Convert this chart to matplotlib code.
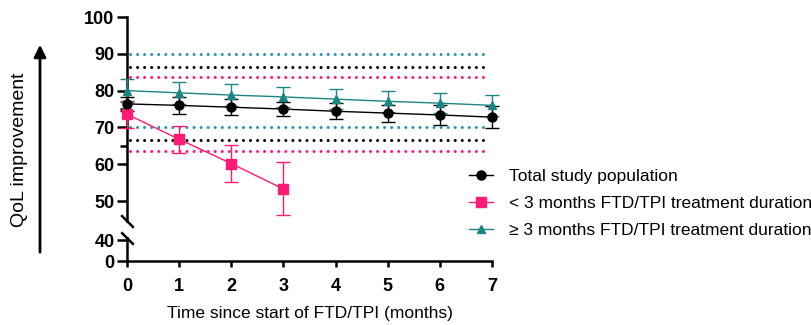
import numpy as np
import matplotlib.pyplot as plt

plt.rcParams['font.family'] = ['Liberation Sans', 'DejaVu Sans']

months = [0, 1, 2, 3, 4, 5, 6, 7]

total_mean = [76.4, 76.0, 75.5, 75.0, 74.4, 73.9, 73.4, 72.8]
total_err = [2.0, 2.3, 2.2, 2.0, 2.2, 2.3, 2.8, 3.0]

short_months = [0, 1, 2, 3]
short_mean = [73.6, 66.8, 60.2, 53.3]
short_err = [3.7, 3.7, 5.1, 7.2]

long_mean = [80.0, 79.4, 78.8, 78.3, 77.7, 77.1, 76.6, 76.0]
long_err = [3.2, 3.0, 2.9, 2.7, 2.7, 2.8, 2.7, 2.8]

# reference limits (dotted lines)
long_limits = [90.0, 70.0]
total_limits = [86.5, 66.5]
short_limits = [83.7, 63.6]

labels = ['Total study population',
          '< 3 months FTD/TPI treatment duration',
          '\u2265 3 months FTD/TPI treatment duration']

black = '#000000'
pink = '#ff1a75'
teal = '#1b8582'
teal_dot = '#2b93ad'

fig = plt.figure(figsize=(8.12, 3.25), dpi=100)
W, H = 812, 325
ax = fig.add_axes([127 / W, 1 - 221 / H, 365 / W, 204 / H])
axb = fig.add_axes([127 / W, 1 - 261 / H, 365 / W, 23 / H])

ax.set_xlim(0, 7)
axb.set_xlim(0, 7)
ax.set_ylim(44.6, 100)
axb.set_ylim(0, 44)

# dotted reference lines
for vals, c in [(long_limits, teal_dot), (total_limits, black), (short_limits, pink)]:
    ax.hlines(vals, 0.05, 6.95, colors=c, linewidth=2.2,
              linestyles=(0, (0.01, 2.3)), capstyle='round')

# series
series = [(months, long_mean, long_err, teal, '^', 6),
          (short_months, short_mean, short_err, pink, 's', 6.5),
          (months, total_mean, total_err, black, 'o', 6.5)]
handles = {}
for x, y, e, c, m, ms in series:
    ax.errorbar(x, y, yerr=e, fmt='none', ecolor=c, elinewidth=1.0,
                capsize=5, capthick=1.0, clip_on=False, zorder=3)
    ln, = ax.plot(x, y, color=c, marker=m, markersize=ms, linewidth=1.0,
                  clip_on=False, zorder=4)
    handles[m] = ln

for a in (ax, axb):
    a.spines['top'].set_visible(False)
    a.spines['right'].set_visible(False)
    a.spines['left'].set_linewidth(1.8)
    a.spines['bottom'].set_linewidth(1.8)
    a.tick_params(axis='y', width=1.8, length=7, pad=2, labelsize=13)
    a.tick_params(axis='x', width=1.8, length=4, labelsize=13)

ax.spines['bottom'].set_visible(False)
ax.tick_params(axis='x', bottom=False, labelbottom=False)
ax.set_yticks([50, 60, 70, 80, 90, 100])
ax.set_yticks([65, 75], minor=True)
ax.tick_params(axis='y', which='minor', width=1.8, length=5)
for t in ax.get_yticklabels():
    t.set_fontweight('bold')

axb.set_yticks([0, 40])
axb.set_xticks(months)
for t in axb.get_yticklabels() + axb.get_xticklabels():
    t.set_fontweight('bold')
axb.tick_params(axis='x', pad=8)
axb.set_xlabel('Time since start of FTD/TPI (months)', fontsize=12.5, labelpad=8)

# axis break marks
brk = dict(marker=[(-1, 1), (1, -1)], markersize=9, markeredgewidth=1.8,
           color='k', linestyle='none', clip_on=False)
ax.plot([0], [0], transform=ax.transAxes, **brk)
axb.plot([0], [1], transform=axb.transAxes, **brk)

# y label with arrow
fig.text(20 / W, 1 - 150 / H, 'QoL improvement', rotation=90,
         ha='center', va='center', fontsize=14)
fig.add_artist(plt.matplotlib.patches.FancyArrowPatch(
    (40 / W, 1 - 255 / H), (40 / W, 1 - 42 / H), transform=fig.transFigure,
    arrowstyle='-|>', mutation_scale=18, linewidth=2, color='k'))

fig.legend([handles['o'], handles['s'], handles['^']], labels,
           loc='upper left', bbox_to_anchor=(469 / W, 1 - 169 / H),
           frameon=False, fontsize=12.5, handlelength=1.4, handletextpad=0.9,
           labelspacing=0.68, borderaxespad=0, borderpad=0)

fig.savefig('out.png', dpi=100)
